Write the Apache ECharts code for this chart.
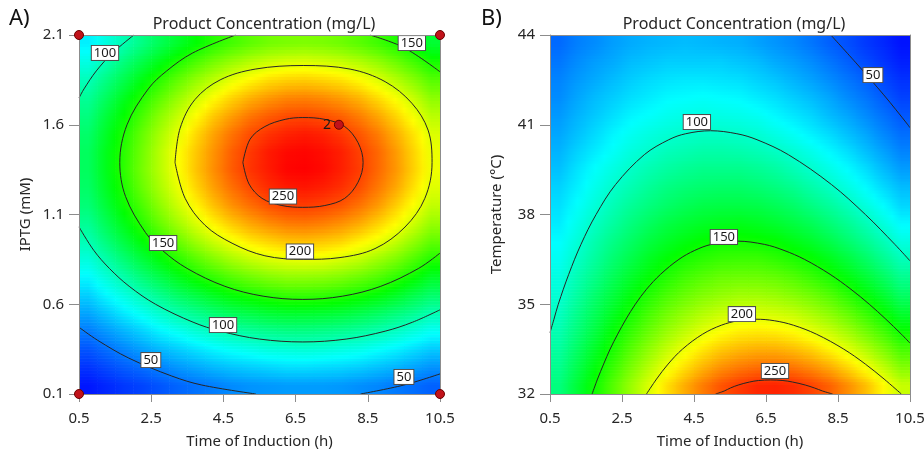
<!DOCTYPE html>
<html>
<head>
<meta charset="utf-8">
<title>Product Concentration contour plots</title>
<script src="https://cdn.jsdelivr.net/npm/echarts@6/dist/echarts.min.js"></script>
<style>
  html, body { margin: 0; padding: 0; background: #fff; }
  #chart { width: 924px; height: 449px; }
</style>
</head>
<body>
<div id="chart"></div>
<script>
// cell centres of the response grids
const timeCells = [0.75, 1.25, 1.75, 2.25, 2.75, 3.25, 3.75, 4.25, 4.75, 5.25,
  5.75, 6.25, 6.75, 7.25, 7.75, 8.25, 8.75, 9.25, 9.75, 10.25];
const iptgCells = [0.15, 0.25, 0.35, 0.45, 0.55, 0.65, 0.75, 0.85, 0.95, 1.05,
  1.15, 1.25, 1.35, 1.45, 1.55, 1.65, 1.75, 1.85, 1.95, 2.05];
const tempCells = [32.3, 32.9, 33.5, 34.1, 34.7, 35.3, 35.9, 36.5, 37.1, 37.7,
  38.3, 38.9, 39.5, 40.1, 40.7, 41.3, 41.9, 42.5, 43.1, 43.7];

// A) concentration (mg/L), one row per IPTG cell, bottom row first
const concA = [
  [27, 31, 35, 38, 42, 46, 49, 52, 55, 57, 58, 59, 59, 59, 58, 56, 54, 51, 48, 45],
  [34, 39, 44, 48, 53, 58, 62, 66, 69, 71, 73, 75, 75, 74, 73, 71, 68, 65, 61, 57],
  [42, 48, 54, 60, 66, 71, 76, 81, 85, 88, 91, 92, 93, 92, 90, 88, 84, 80, 75, 70],
  [51, 58, 65, 72, 80, 86, 93, 98, 103, 107, 110, 112, 112, 111, 109, 106, 102, 97, 91, 85],
  [61, 69, 78, 86, 95, 103, 110, 117, 123, 127, 131, 133, 133, 132, 130, 126, 121, 115, 109, 101],
  [71, 81, 90, 100, 110, 120, 128, 136, 143, 148, 152, 155, 155, 154, 151, 147, 142, 135, 126, 118],
  [81, 92, 103, 115, 126, 137, 147, 155, 163, 169, 174, 177, 177, 176, 173, 168, 162, 154, 145, 134],
  [91, 103, 116, 129, 141, 153, 164, 174, 183, 190, 195, 198, 199, 198, 194, 189, 181, 173, 162, 151],
  [100, 114, 128, 142, 155, 168, 181, 192, 201, 209, 214, 218, 219, 217, 214, 207, 200, 190, 178, 166],
  [108, 123, 138, 153, 168, 182, 195, 207, 217, 225, 231, 235, 236, 234, 230, 224, 215, 205, 192, 179],
  [115, 130, 146, 161, 177, 192, 206, 219, 230, 238, 245, 249, 250, 248, 244, 237, 228, 216, 203, 189],
  [119, 135, 151, 168, 184, 199, 214, 227, 238, 247, 254, 258, 259, 257, 253, 246, 236, 225, 211, 196],
  [121, 137, 154, 171, 187, 203, 218, 231, 243, 252, 258, 263, 264, 262, 257, 250, 240, 229, 215, 200],
  [121, 137, 153, 170, 187, 203, 217, 230, 242, 251, 258, 262, 263, 261, 257, 249, 240, 228, 214, 199],
  [118, 134, 150, 167, 183, 198, 213, 226, 237, 246, 252, 256, 258, 256, 251, 244, 235, 223, 210, 195],
  [113, 129, 144, 160, 176, 190, 204, 217, 227, 236, 242, 246, 247, 245, 241, 234, 225, 214, 201, 187],
  [107, 121, 136, 151, 165, 179, 192, 204, 214, 222, 228, 232, 233, 231, 227, 221, 212, 202, 190, 176],
  [99, 112, 125, 139, 153, 166, 178, 188, 198, 205, 211, 214, 215, 213, 210, 204, 196, 186, 175, 163],
  [89, 101, 114, 126, 138, 150, 161, 171, 179, 186, 191, 194, 195, 193, 190, 185, 178, 169, 159, 148],
  [79, 90, 101, 112, 123, 133, 143, 152, 159, 165, 170, 172, 173, 172, 169, 164, 158, 150, 141, 131]
];

// B) concentration (mg/L), one row per temperature cell, bottom row first
const concB = [
  [118, 134, 150, 166, 182, 197, 212, 224, 235, 244, 250, 254, 255, 253, 248, 241, 231, 220, 206, 192],
  [114, 129, 144, 159, 174, 188, 201, 212, 222, 230, 235, 238, 238, 236, 231, 224, 214, 203, 190, 176],
  [110, 124, 138, 152, 166, 179, 191, 201, 210, 217, 221, 223, 223, 220, 215, 207, 198, 187, 175, 162],
  [106, 119, 132, 146, 158, 170, 181, 190, 198, 204, 208, 209, 208, 205, 199, 192, 183, 172, 161, 148],
  [102, 115, 127, 139, 151, 162, 172, 180, 187, 192, 195, 196, 194, 191, 185, 178, 169, 159, 148, 136],
  [98, 110, 122, 133, 144, 154, 163, 170, 176, 180, 183, 183, 181, 177, 172, 165, 156, 146, 136, 124],
  [95, 106, 116, 127, 137, 146, 154, 161, 166, 170, 171, 171, 169, 165, 159, 152, 144, 135, 125, 114],
  [91, 101, 111, 121, 130, 139, 146, 152, 156, 159, 160, 160, 157, 153, 148, 141, 133, 124, 114, 104],
  [88, 97, 107, 116, 124, 132, 138, 143, 147, 150, 150, 149, 147, 142, 137, 130, 122, 114, 105, 95],
  [84, 93, 102, 110, 118, 125, 131, 135, 138, 140, 141, 139, 136, 132, 127, 120, 113, 105, 96, 87],
  [81, 89, 97, 105, 112, 118, 123, 127, 130, 131, 131, 130, 127, 123, 117, 111, 104, 96, 88, 79],
  [78, 85, 93, 100, 106, 112, 117, 120, 122, 123, 123, 121, 118, 114, 108, 102, 95, 88, 80, 73],
  [74, 82, 89, 95, 101, 106, 110, 113, 115, 115, 115, 113, 110, 105, 100, 94, 88, 81, 73, 66],
  [71, 78, 84, 90, 96, 100, 104, 106, 108, 108, 107, 105, 102, 98, 93, 87, 81, 74, 67, 60],
  [68, 74, 80, 86, 91, 95, 98, 100, 101, 101, 100, 98, 94, 90, 85, 80, 74, 68, 61, 55],
  [65, 71, 76, 81, 86, 89, 92, 94, 95, 94, 93, 91, 87, 83, 79, 73, 68, 62, 56, 50],
  [62, 68, 73, 77, 81, 84, 87, 88, 89, 88, 87, 84, 81, 77, 73, 68, 62, 57, 51, 45],
  [60, 65, 69, 73, 77, 80, 82, 83, 83, 82, 81, 78, 75, 71, 67, 62, 57, 52, 46, 41],
  [57, 62, 66, 69, 73, 75, 77, 77, 77, 77, 75, 73, 69, 66, 62, 57, 52, 47, 42, 37],
  [54, 59, 62, 66, 69, 71, 72, 73, 72, 71, 70, 67, 64, 61, 57, 52, 48, 43, 39, 34]
];

// tick labels
const timeTicks = [0.5, 2.5, 4.5, 6.5, 8.5, 10.5];
const iptgTicks = [0.1, 0.6, 1.1, 1.6, 2.1];
const tempTicks = [32, 35, 38, 41, 44];

// contour lines of panel A, [time, IPTG]
const a250 = [[5.04, 1.39], [5.24, 1.52], [5.65, 1.59], [6.21, 1.63], [6.70, 1.64], [7.31, 1.63],
  [7.86, 1.59], [8.23, 1.50], [8.37, 1.39], [8.23, 1.28], [7.86, 1.19], [7.31, 1.15], [6.70, 1.14],
  [6.12, 1.15], [5.57, 1.19], [5.21, 1.27], [5.04, 1.39]];
const a200 = [[3.16, 1.39], [3.30, 1.58], [3.71, 1.74], [4.41, 1.85], [5.38, 1.91], [6.71, 1.93],
  [8.01, 1.91], [8.98, 1.84], [9.72, 1.72], [10.17, 1.57], [10.28, 1.39], [10.08, 1.19], [9.53, 1.03],
  [8.70, 0.91], [7.73, 0.86], [6.71, 0.85], [5.65, 0.87], [4.74, 0.94], [3.99, 1.04], [3.44, 1.19],
  [3.16, 1.39]];
const a150 = [[4.84, 2.1], [3.65, 2.0], [2.93, 1.9], [2.42, 1.8], [1.83, 1.6], [1.63, 1.39], [1.79, 1.2],
  [2.34, 1.0], [2.81, 0.9], [3.49, 0.8], [4.54, 0.7], [5.6, 0.645], [6.7, 0.627], [7.8, 0.645],
  [8.86, 0.7], [9.91, 0.8], [10.5, 0.885]];
const a150top = [[8.56, 2.1], [9.5, 2.03], [10.5, 1.895]];
const a100top = [[2.02, 2.1], [1.43, 2.0], [0.98, 1.9], [0.64, 1.8], [0.5, 1.749]];
const a100 = [[0.5, 1.031], [0.91, 0.9], [1.34, 0.8], [1.89, 0.7], [2.62, 0.6], [3.66, 0.5],
  [4.42, 0.45], [5.5, 0.406], [6.7, 0.39], [7.9, 0.406], [8.98, 0.45], [9.74, 0.5], [10.5, 0.569]];
const a50left = [[0.5, 0.472], [1.01, 0.4], [1.88, 0.3], [3.07, 0.2], [3.9, 0.15], [5.4, 0.1]];
const a50right = [[8.3, 0.1], [9.5, 0.15], [10.5, 0.212]];

// contour lines of panel B, [time, temperature]
const b250 = [[5.1, 32], [5.34, 32.1], [5.51, 32.2], [5.73, 32.3], [6.04, 32.4], [6.29, 32.45],
  [6.63, 32.47], [6.97, 32.45], [7.24, 32.4], [7.59, 32.3], [7.85, 32.2], [8.07, 32.1], [8.35, 32]];
const b200 = [[3.18, 32], [3.46, 32.5], [3.78, 33], [4.18, 33.5], [4.74, 34], [5.26, 34.3],
  [5.73, 34.45], [6.22, 34.5], [6.73, 34.45], [7.26, 34.3], [7.9, 34], [8.66, 33.5], [9.26, 33],
  [9.78, 32.5], [10.26, 32]];
const b150 = [[1.67, 32], [1.82, 32.5], [1.99, 33], [2.17, 33.5], [2.38, 34], [2.61, 34.5], [2.87, 35],
  [3.18, 35.5], [3.57, 36], [4.08, 36.5], [4.52, 36.8], [4.98, 37], [5.7, 37.11], [6.46, 37],
  [7.0, 36.8], [7.57, 36.5], [8.28, 36], [8.86, 35.5], [9.37, 35], [9.83, 34.5], [10.26, 34],
  [10.5, 33.7]];
const b100 = [[0.5, 34.05], [0.61, 34.5], [0.73, 35], [1.02, 36], [1.36, 37], [1.78, 38], [2.32, 39],
  [3.12, 40], [3.8, 40.5], [4.27, 40.7], [4.96, 40.8], [5.69, 40.7], [6.25, 40.5], [7.12, 40],
  [8.32, 39], [9.26, 38], [10.08, 37], [10.5, 36.45]];
const b50 = [[8.3, 44], [9.05, 43], [9.77, 42], [10.11, 41.5], [10.44, 41], [10.5, 40.9]];

// contour label boxes, [time, y, text]
const labelsA = [[1.22, 2.0, '100'], [9.72, 2.055, '150'], [6.15, 1.2, '250'], [6.62, 0.894, '200'],
  [2.83, 0.941, '150'], [4.49, 0.484, '100'], [2.49, 0.289, '50'], [9.50, 0.195, '50']];
const labelsB = [[4.58, 41.09, '100'], [5.33, 37.25, '150'], [5.83, 34.67, '200'],
  [6.75, 32.77, '250'], [9.47, 42.66, '50']];

// design points in panel A
const designA = [[0.5, 0.1], [0.5, 2.1], [10.5, 0.1], [10.5, 2.1]];
const centreA = [[7.7, 1.6, '2']];

const FONT = '"Noto Sans", "Open Sans", sans-serif';
const TXT = '#262626';
const AXC = '#8c8c8c';
const jet = ['#0000ff', '#00ffff', '#00ff00', '#ffff00', '#ff0000'];

function fmt1(v) { return Number(v).toFixed(1); }

// value of column i at a fractional row position (row index units)
function colValue(grid, i, yf) {
  const ic = Math.max(0, Math.min(grid[0].length - 1, i));
  const last = grid.length - 1;
  if (yf <= 0) return grid[0][ic];
  if (yf >= last) return grid[last][ic];
  const j0 = Math.floor(yf);
  const t = yf - j0;
  return grid[j0][ic] * (1 - t) + grid[j0 + 1][ic] * t;
}

// each cell is painted as thin strips shaded across the cell from its neighbours
function shadedCells(grid, xCells, yCells, dx, dy, range, xIdx, yIdx) {
  const data = [];
  for (let j = 0; j < yCells.length; j++) {
    for (let i = 0; i < xCells.length; i++) {
      data.push([xCells[i], yCells[j], grid[j][i], i, j]);
    }
  }
  const colour = v => echarts.color.lerp(
    Math.max(0, Math.min(1, (v - range[0]) / (range[1] - range[0]))), jet);
  const strips = 6;
  return {
    type: 'custom', xAxisIndex: xIdx, yAxisIndex: yIdx, data: data, silent: true, z: 1,
    clip: true, progressive: 0, encode: { x: 0, y: 1 },
    renderItem: function (params, api) {
      const i = api.value(3);
      const j = api.value(4);
      const corner = api.coord([api.value(0) - dx / 2, api.value(1) + dy / 2]);
      const size = api.size([dx, dy]);
      const h = size[1] / strips;
      const children = [];
      for (let s = 0; s < strips; s++) {
        const yf = j + 0.5 - (s + 0.5) / strips;
        const vc = colValue(grid, i, yf);
        const vl = (colValue(grid, i - 1, yf) + vc) / 2;
        const vr = (colValue(grid, i + 1, yf) + vc) / 2;
        children.push({
          type: 'rect',
          shape: { x: corner[0], y: corner[1] + s * h, width: size[0] + 0.6, height: h + 0.6 },
          style: {
            fill: new echarts.graphic.LinearGradient(0, 0, 1, 0, [
              { offset: 0, color: colour(vl) },
              { offset: 0.5, color: colour(vc) },
              { offset: 1, color: colour(vr) }
            ])
          }
        });
      }
      return { type: 'group', children: children };
    }
  };
}

function plotArea(left, width) {
  return { left: left, top: 35, width: width, height: 359, outerBoundsMode: 'none', containLabel: false };
}

function valueX(gridIndex, name) {
  return {
    type: 'value', gridIndex: gridIndex, min: 0.5, max: 10.5, z: 5,
    name: name, nameLocation: 'middle', nameGap: 40,
    nameTextStyle: { fontFamily: FONT, fontSize: 15, color: TXT },
    axisLine: { show: true, onZero: false, lineStyle: { color: AXC, width: 1 } },
    axisTick: { show: true, length: 8, customValues: timeTicks, lineStyle: { color: AXC } },
    axisLabel: { customValues: timeTicks, formatter: fmt1, margin: 17,
      fontFamily: FONT, fontSize: 15, color: TXT },
    splitLine: { show: false }
  };
}

function valueY(gridIndex, name, min, max, ticks, f) {
  return {
    type: 'value', gridIndex: gridIndex, min: min, max: max, z: 5,
    name: name, nameLocation: 'middle', nameGap: 46,
    nameTextStyle: { fontFamily: FONT, fontSize: 15, color: TXT },
    axisLine: { show: true, onZero: false, lineStyle: { color: AXC, width: 1 } },
    axisTick: { show: true, length: 10, customValues: ticks, lineStyle: { color: AXC } },
    axisLabel: { customValues: ticks, formatter: f, margin: 15,
      fontFamily: FONT, fontSize: 15, color: TXT },
    splitLine: { show: false }
  };
}

function frame(gridIndex, position, min, max) {
  return {
    type: 'value', gridIndex: gridIndex, position: position, min: min, max: max, z: 5,
    axisLine: { show: true, onZero: false, lineStyle: { color: AXC, width: 1 } },
    axisTick: { show: false }, axisLabel: { show: false }, splitLine: { show: false }
  };
}

function contour(points, xIdx, yIdx) {
  return {
    type: 'line', xAxisIndex: xIdx, yAxisIndex: yIdx, data: points,
    smooth: 0.35, symbol: 'none', silent: true, z: 3,
    lineStyle: { color: '#262626', width: 1 }
  };
}

function contourLabels(items, xIdx, yIdx) {
  return {
    type: 'scatter', xAxisIndex: xIdx, yAxisIndex: yIdx, symbolSize: 0, silent: true, z: 4,
    itemStyle: { opacity: 1 },
    data: items.map(d => ({ value: [d[0], d[1]], name: d[2] })),
    label: {
      show: true, position: 'inside', formatter: '{b}',
      fontFamily: FONT, fontSize: 13, color: '#1a1a1a',
      backgroundColor: '#ffffff', borderColor: '#4d4d4d', borderWidth: 1, padding: [1, 2, 0, 2]
    }
  };
}

const chart = echarts.init(document.getElementById('chart'), null, { renderer: 'canvas' });

const option = {
  backgroundColor: '#fff',
  animation: false,
  title: [
    { text: 'Product Concentration (mg/L)', left: 259, top: 11, textAlign: 'center',
      textStyle: { fontFamily: FONT, fontSize: 16, fontWeight: 'normal', color: TXT } },
    { text: 'Product Concentration (mg/L)', left: 729, top: 11, textAlign: 'center',
      textStyle: { fontFamily: FONT, fontSize: 16, fontWeight: 'normal', color: TXT } }
  ],
  graphic: [
    { type: 'text', left: 9, top: 8, style: { text: 'A)', font: '22px ' + FONT, fill: '#111' } },
    { type: 'text', left: 481, top: 8, style: { text: 'B)', font: '22px ' + FONT, fill: '#111' } }
  ],
  grid: [plotArea(79, 361), plotArea(550, 360)],
  xAxis: [
    valueX(0, 'Time of Induction (h)'),
    frame(0, 'top', 0.5, 10.5),
    valueX(1, 'Time of Induction (h)'),
    frame(1, 'top', 0.5, 10.5)
  ],
  yAxis: [
    valueY(0, 'IPTG (mM)', 0.1, 2.1, iptgTicks, fmt1),
    frame(0, 'right', 0.1, 2.1),
    valueY(1, 'Temperature (°C)', 32, 44, tempTicks, v => String(Math.round(v))),
    frame(1, 'right', 32, 44)
  ],
  series: [
    shadedCells(concA, timeCells, iptgCells, 0.5, 0.1, [22, 264], 0, 0),
    shadedCells(concB, timeCells, tempCells, 0.5, 0.6, [30, 263], 2, 2),

    contour(a250, 0, 0), contour(a200, 0, 0), contour(a150, 0, 0), contour(a150top, 0, 0),
    contour(a100top, 0, 0), contour(a100, 0, 0), contour(a50left, 0, 0), contour(a50right, 0, 0),

    contour(b250, 2, 2), contour(b200, 2, 2), contour(b150, 2, 2), contour(b100, 2, 2),
    contour(b50, 2, 2),

    contourLabels(labelsA, 0, 0),
    contourLabels(labelsB, 2, 2),

    { type: 'scatter', xAxisIndex: 0, yAxisIndex: 0, data: designA, symbolSize: 9, clip: false,
      silent: true, z: 6, itemStyle: { color: '#c1121a', borderColor: '#6b0000', borderWidth: 1, opacity: 1 } },
    { type: 'scatter', xAxisIndex: 0, yAxisIndex: 0, data: centreA, symbolSize: 9, silent: true, z: 6,
      itemStyle: { color: '#c1121a', borderColor: '#6b0000', borderWidth: 1, opacity: 1 },
      label: { show: true, position: 'left', distance: 3, formatter: p => p.value[2],
        fontFamily: FONT, fontSize: 14, color: '#1a1a1a' } }
  ]
};

chart.setOption(option);
</script>
</body>
</html>
